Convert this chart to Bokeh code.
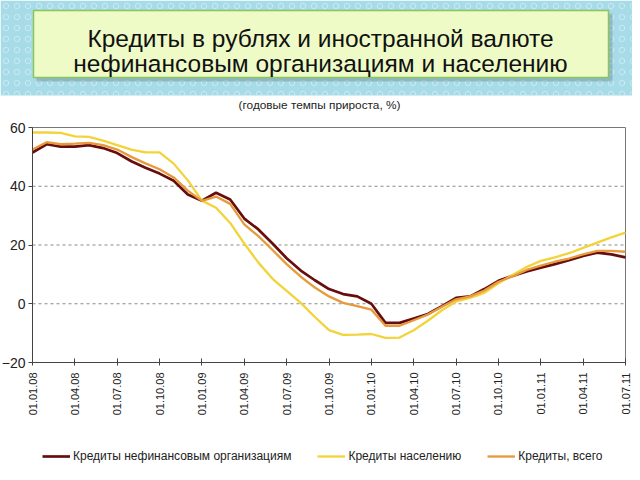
import math
from bokeh.plotting import figure
from bokeh.models import (Range1d, FixedTicker, Legend, LegendItem, Label, BoxAnnotation)
from bokeh.embed import file_html
from bokeh.resources import INLINE

# ---- data (annual growth, %; monthly from 01.01.08 to 01.07.11) ----
tick_labels = ["01.01.08", "01.04.08", "01.07.08", "01.10.08", "01.01.09", "01.04.09",
               "01.07.09", "01.10.09", "01.01.10", "01.04.10", "01.07.10", "01.10.10",
               "01.01.11", "01.04.11", "01.07.11"]
nonfin = [51.5, 54.3, 53.5, 53.5, 54.0, 53.0, 51.3, 48.5, 46.3, 44.3, 41.9, 37.2, 35.1,
          37.8, 35.5, 29.0, 25.3, 20.5, 15.5, 11.3, 8.0, 5.0, 3.3, 2.5, 0.0, -6.5, -6.5,
          -5.0, -3.5, -0.8, 2.0, 2.5, 5.0, 7.8, 9.5, 11.0, 12.3, 13.5, 14.8, 16.3, 17.4,
          16.8, 15.8]
households = [58.3, 58.3, 58.2, 57.0, 56.8, 55.5, 54.0, 52.5, 51.5, 51.5, 47.7, 42.0, 35.1,
              32.7, 27.5, 20.5, 14.0, 8.5, 4.4, 0.3, -4.5, -9.0, -10.6, -10.5, -10.3, -11.6,
              -11.5, -9.0, -5.8, -2.2, 0.8, 2.0, 3.7, 7.0, 9.8, 12.5, 14.6, 15.8, 17.2, 19.0,
              20.8, 22.6, 24.2]
total = [52.5, 55.0, 54.3, 54.5, 54.8, 54.0, 52.5, 50.0, 47.8, 45.8, 43.0, 38.5, 35.0,
         36.5, 34.0, 27.0, 23.0, 18.3, 13.5, 9.2, 5.5, 2.5, 0.3, -0.8, -2.0, -7.5, -7.5,
         -5.6, -3.7, -1.0, 1.5, 2.5, 4.5, 7.5, 9.3, 11.5, 13.0, 14.3, 15.4, 16.8, 18.0,
         18.0, 17.7]
y_ticks = [-20, 0, 20, 40, 60]
grid_values = [0, 20, 40]
series_names = ["Кредиты нефинансовым организациям", "Кредиты населению", "Кредиты, всего"]
title_lines = ["Кредиты в рублях и иностранной валюте", "нефинансовым организациям и населению"]
subtitle = "(годовые темпы прироста, %)"

months = list(range(len(nonfin)))
tick_positions = [3 * i for i in range(len(tick_labels))]
x_min, x_max = tick_positions[0], tick_positions[-1]
y_min, y_max = y_ticks[0], y_ticks[-1]

# ---- layout (pixels inside the canvas, from top-left) ----
W, H = 632, 472
PL, PR, PT, PB = 32, 625, 127, 362          # chart box edges
sx = (PR - PL) / (x_max - x_min)
sy = (PB - PT) / (y_max - y_min)
x_range = Range1d(x_min - PL / sx, x_max + (W - PR) / sx)
y_range = Range1d(y_min - (H - PB) / sy, y_max + PT / sy)

FONT = "Liberation Sans"


def fy(top_px):
    """canvas y measured from top -> screen units measured from bottom"""
    return H - top_px


def box(left, right, top, bottom, **kw):
    return BoxAnnotation(left=left, right=right, top=fy(top), bottom=fy(bottom),
                         left_units="screen", right_units="screen", top_units="screen",
                         bottom_units="screen", **kw)


p = figure(width=W, height=H, x_range=x_range, y_range=y_range, toolbar_location=None,
           output_backend="svg", min_border=0)
p.background_fill_color = "white"
p.border_fill_color = "white"
p.outline_line_color = None
p.xgrid.visible = False
p.ygrid.visible = False

# banner
p.add_layout(box(0, W, 0, 95, fill_color="#a7dbe7", fill_alpha=1, line_color=None,
                 hatch_pattern="ring", hatch_color="#cdeef5", hatch_scale=11,
                 hatch_weight=1, hatch_alpha=0.8))
p.add_layout(box(36, 612, 13, 81, fill_color="#6f8f96", fill_alpha=0.45, line_color=None))
p.add_layout(box(33, 608, 10, 77, fill_color="#eefbc6", fill_alpha=1, line_color="#8cc45c",
                 line_width=1.5, line_alpha=1))
for txt, base in zip(title_lines, [38, 62.7]):
    p.add_layout(Label(x=320, y=fy(base), x_units="screen", y_units="screen", text=txt,
                       text_align="center", text_baseline="alphabetic", text_font=FONT,
                       text_font_size="24.5px", text_color="#111111"))
p.add_layout(Label(x=319, y=fy(104), x_units="screen", y_units="screen", text=subtitle,
                   text_align="center", text_baseline="middle", text_font=FONT,
                   text_font_size="11.8px", text_color="#222222"))

# grid lines and chart box
p.segment(x0=[x_min] * len(grid_values), x1=[x_max] * len(grid_values),
          y0=grid_values, y1=grid_values, line_color="#8a8a8a", line_dash="3 3",
          line_width=1)
p.quad(left=[x_min], right=[x_max], bottom=[y_min], top=[y_max], fill_color=None,
       line_color="#777777", line_width=1)

# series
r1 = p.line(months, nonfin, line_color="#680d0d", line_width=2.7)
r2 = p.line(months, households, line_color="#f2d33a", line_width=2.3)
r3 = p.line(months, total, line_color="#e79a3c", line_width=2.3)

# axes drawn at the chart box edges
xa = p.xaxis[0]
xa.fixed_location = y_min
xa.bounds = (x_min, x_max)
xa.ticker = FixedTicker(ticks=tick_positions)
xa.major_label_overrides = {pos: lab for pos, lab in zip(tick_positions, tick_labels)}
xa.major_label_orientation = math.pi / 2
xa.minor_tick_line_color = None
xa.major_tick_in = 4
xa.major_tick_out = 3
xa.axis_line_color = "#444444"
xa.major_tick_line_color = "#444444"
xa.major_label_standoff = 7
xa.major_label_text_font = FONT
xa.major_label_text_font_size = "11px"
xa.major_label_text_color = "#222222"

ya = p.yaxis[0]
ya.fixed_location = x_min
ya.bounds = (y_min, y_max)
ya.ticker = FixedTicker(ticks=y_ticks)
ya.minor_tick_line_color = None
ya.major_tick_in = 0
ya.major_tick_out = 4
ya.axis_line_color = "#444444"
ya.major_tick_line_color = "#444444"
ya.major_label_standoff = 3
ya.major_label_text_font = FONT
ya.major_label_text_font_size = "14px"
ya.major_label_text_color = "#222222"

legend = Legend(items=[LegendItem(label=series_names[0], renderers=[r1]),
                       LegendItem(label=series_names[1], renderers=[r2]),
                       LegendItem(label=series_names[2], renderers=[r3])],
                orientation="horizontal", location=(42, 9), glyph_width=28,
                glyph_height=14, label_height=14, label_standoff=3, spacing=26,
                padding=0, margin=0, border_line_color=None, background_fill_alpha=0,
                label_text_font=FONT, label_text_font_size="12px",
                label_text_color="#222222")
p.add_layout(legend, "center")

open("out.html", "w").write(file_html(p, INLINE))
